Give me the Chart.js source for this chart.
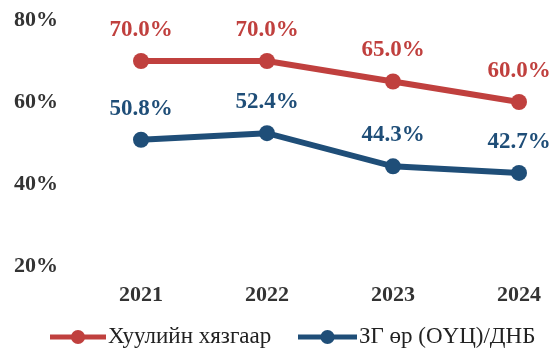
<!DOCTYPE html>
<html>
<head>
<meta charset="utf-8">
<script src="https://cdn.jsdelivr.net/npm/chart.js@4"></script>
<style>
  html, body { margin: 0; padding: 0; background: #fff; }
  #wrap { width: 559px; height: 356px; position: relative; }
</style>
</head>
<body>
<div id="wrap"><canvas id="c" width="559" height="356"></canvas></div>
<script>
const years = ['2021', '2022', '2023', '2024'];
const legalLimit = [70.0, 70.0, 65.0, 60.0];
const debtToGdp = [50.8, 52.4, 44.3, 42.7];
const seriesNames = ['Хуулийн хязгаар', 'ЗГ өр (ОҮЦ)/ДНБ'];
const yTicks = [20, 40, 60, 80];

const RED = '#C0403E';
const BLUE = '#1F4E78';
const SERIF = '"Liberation Serif", "Times New Roman", serif';

// Value labels above every point
const valueLabels = {
  id: 'valueLabels',
  afterDatasetsDraw(chart) {
    const ctx = chart.ctx;
    ctx.save();
    ctx.font = 'bold 23px ' + SERIF;
    ctx.textAlign = 'center';
    ctx.textBaseline = 'middle';
    chart.data.datasets.forEach((ds, i) => {
      const meta = chart.getDatasetMeta(i);
      ctx.fillStyle = ds.borderColor;
      meta.data.forEach((pt, j) => {
        ctx.fillText(ds.data[j].toFixed(1) + '%', pt.x, pt.y - 31);
      });
    });
    ctx.restore();
  }
};

// Legend with a line-and-dot marker for each series
const lineLegend = {
  id: 'lineLegend',
  afterDraw(chart) {
    const ctx = chart.ctx;
    const y = 337;
    const items = [
      { x0: 50, x1: 106 },
      { x0: 298, x1: 357 }
    ];
    ctx.save();
    ctx.font = '23px ' + SERIF;
    ctx.textBaseline = 'middle';
    ctx.textAlign = 'left';
    chart.data.datasets.forEach((ds, i) => {
      const { x0, x1 } = items[i];
      ctx.strokeStyle = ds.borderColor;
      ctx.lineWidth = 5;
      ctx.beginPath();
      ctx.moveTo(x0, y);
      ctx.lineTo(x1, y);
      ctx.stroke();
      ctx.fillStyle = ds.borderColor;
      ctx.beginPath();
      ctx.arc((x0 + x1) / 2, y, 7, 0, Math.PI * 2);
      ctx.fill();
      ctx.fillStyle = '#222';
      ctx.fillText(ds.label, x1 + 2, y);
    });
    ctx.restore();
  }
};

new Chart(document.getElementById('c'), {
  type: 'line',
  data: {
    labels: years,
    datasets: [
      { label: seriesNames[0], data: legalLimit, borderColor: RED, backgroundColor: RED },
      { label: seriesNames[1], data: debtToGdp, borderColor: BLUE, backgroundColor: BLUE }
    ]
  },
  options: {
    responsive: false,
    animation: false,
    devicePixelRatio: 1,
    layout: { padding: { top: 20, right: 40, bottom: 0, left: 14 } },
    elements: {
      line: { borderWidth: 6, tension: 0 },
      point: { radius: 8, hoverRadius: 8, borderWidth: 0 }
    },
    plugins: {
      legend: { display: false },
      tooltip: { enabled: false }
    },
    scales: {
      x: {
        offset: false,
        grid: { display: false, drawTicks: false },
        border: { display: false },
        ticks: { color: '#333', font: { family: SERIF, size: 22, weight: 'bold' }, padding: 16, maxRotation: 0 },
        afterFit(scale) { scale.height = 90; }
      },
      y: {
        min: 20,
        max: 80,
        afterBuildTicks(scale) { scale.ticks = yTicks.map(v => ({ value: v })); },
        grid: { display: false, drawTicks: false },
        border: { display: false },
        ticks: {
          color: '#333',
          font: { family: SERIF, size: 22, weight: 'bold' },
          padding: 0,
          crossAlign: 'far',
          callback: v => v + '%'
        },
        afterFit(scale) { scale.width = 127; }
      }
    }
  },
  plugins: [valueLabels, lineLegend]
});
</script>
</body>
</html>
